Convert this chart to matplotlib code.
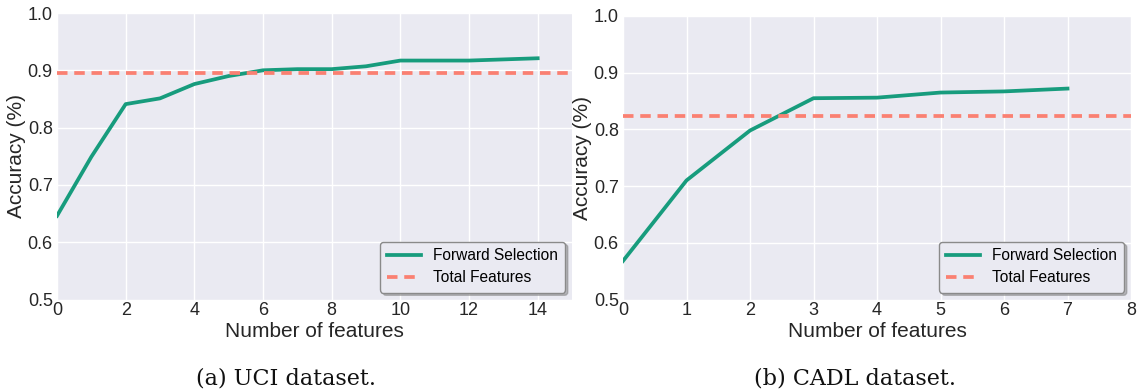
import matplotlib
matplotlib.use("Agg")
import matplotlib.pyplot as plt

# UCI dataset
uci_n = list(range(15))
uci_acc = [0.646, 0.749, 0.841, 0.851, 0.876, 0.890, 0.900, 0.902,
           0.902, 0.907, 0.917, 0.917, 0.917, 0.919, 0.921]
uci_total = 0.895
uci_xticks = [0, 2, 4, 6, 8, 10, 12, 14]

# CADL dataset
cadl_n = list(range(8))
cadl_acc = [0.568, 0.710, 0.798, 0.855, 0.856, 0.865, 0.867, 0.872]
cadl_total = 0.823
cadl_xticks = [0, 1, 2, 3, 4, 5, 6, 7, 8]

yticks = [0.5, 0.6, 0.7, 0.8, 0.9, 1.0]
captions = ["(a) UCI dataset.", "(b) CADL dataset."]

GREEN = "#179c7d"
SALMON = "#fa8072"
BG = "#eaeaf2"
TXT = "#262626"

plt.rcParams["font.family"] = ["Liberation Sans", "DejaVu Sans"]

W, H = 1141.0, 389.0
fig = plt.figure(figsize=(W / 100, H / 100), dpi=100)

# (x, y, xmax, xticks, total, axes box in px (left, right, top, bottom), caption centre)
panels = [
    (uci_n, uci_acc, 15, uci_xticks, uci_total, (57, 572, 13, 299.5), 286),
    (cadl_n, cadl_acc, 8, cadl_xticks, cadl_total, (623, 1131, 16, 299.5), 855),
]

for i, (n, acc, xmax, xt, total, box, cx) in enumerate(panels):
    l, r, t, b = box
    ax = fig.add_axes([l / W, 1 - b / H, (r - l) / W, (b - t) / H])
    ax.set_facecolor(BG)
    for s in ax.spines.values():
        s.set_visible(False)
    ax.grid(True, color="white", linewidth=1.0)
    ax.set_axisbelow(True)

    ax.plot(n, acc, color=GREEN, linewidth=2.7, label="Forward Selection")
    ax.axhline(total, color=SALMON, linewidth=2.7, linestyle=(0, (2.8, 1.8)),
               label="Total Features")

    ax.set_xlim(0, xmax)
    ax.set_ylim(0.5, 1.0)
    ax.set_xticks(xt)
    ax.set_yticks(yticks)
    ax.set_yticklabels(["%.1f" % v for v in yticks])
    ax.tick_params(length=0, labelsize=13, colors=TXT)
    ax.tick_params(axis="x", pad=2)
    ax.tick_params(axis="y", pad=3)
    ax.set_xlabel("Number of features", fontsize=15, color=TXT, labelpad=2)
    ax.set_ylabel("Accuracy (%)", fontsize=15, color=TXT, labelpad=1)

    leg = ax.legend(loc="lower right", fontsize=11.2, frameon=True,
                    shadow={"color": "0.5", "alpha": 0.5},
                    fancybox=True, borderpad=0.45, handlelength=2.2,
                    handletextpad=0.75, borderaxespad=0.45, labelspacing=0.45)
    leg.get_frame().set_facecolor(BG)
    leg.get_frame().set_edgecolor("#8a8a8a")
    leg.get_frame().set_alpha(1.0)

    fig.text(cx / W, 5 / H, captions[i], ha="center", va="baseline",
             fontsize=16, family="DejaVu Serif", color="#111111")

fig.savefig("out.png", dpi=100)
